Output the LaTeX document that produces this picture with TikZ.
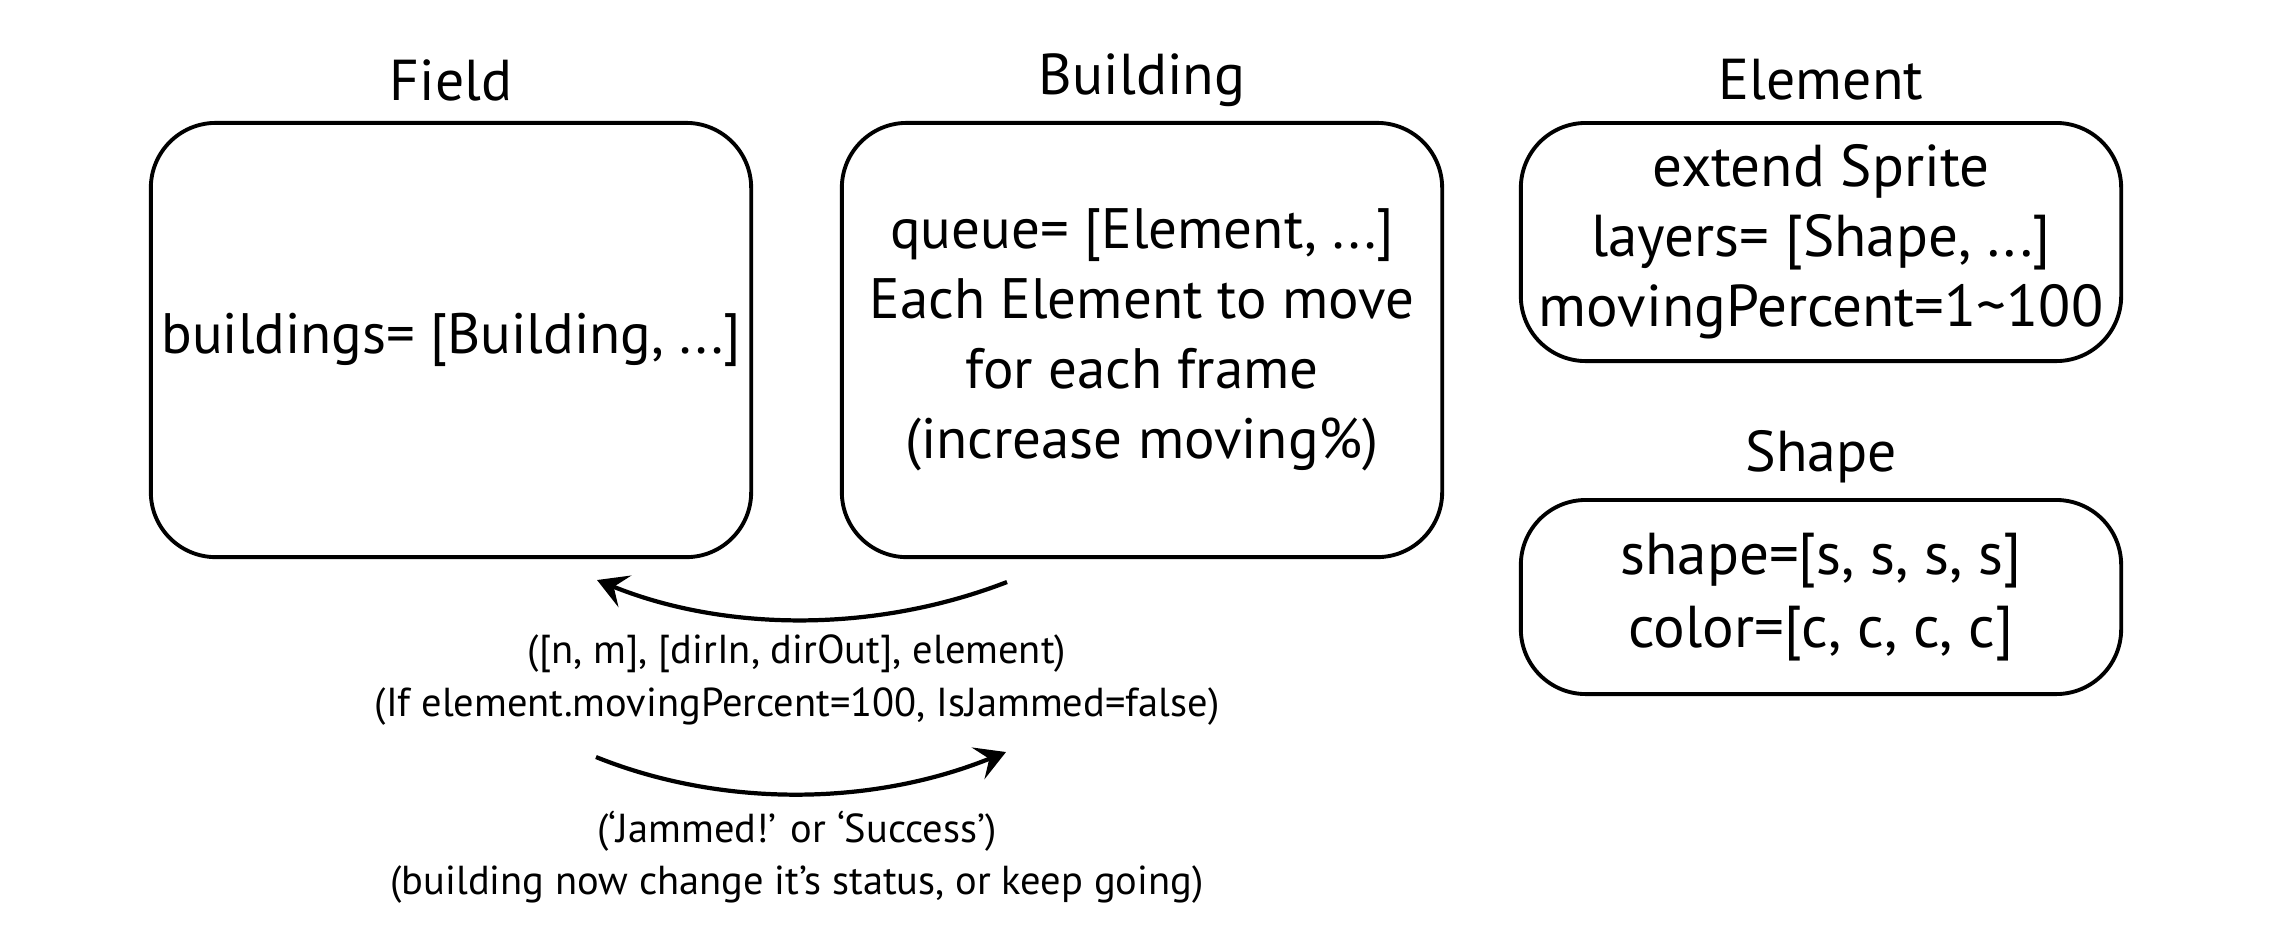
\documentclass[tikz,border=0pt]{standalone}
\usepackage{fontspec}
\setmainfont{PT Sans}
\usetikzlibrary{arrows.meta}
\begin{document}
\begin{tikzpicture}[x=0.01cm,y=-0.01cm,
  box/.style={draw, line width=1.1pt, rounded corners=0.65cm, align=center, inner sep=0pt,
    minimum width=6cm, font=\fontsize{16.2}{19.9}\selectfont},
  ttl/.style={font=\fontsize{16.4}{19.9}\selectfont, inner sep=0pt},
  lbl/.style={font=\fontsize{11.5}{14.9}\selectfont, align=center, inner sep=0pt},
  arr/.style={line width=1.2pt, -{Stealth[length=3mm, width=3.4mm, inset=1.2mm]}}
]
\useasboundingbox (0,0) rectangle (2273,950);

\node[box, minimum height=4.34cm] (field) at (451,340) {buildings= [Building, ...]};
\node[box, minimum height=4.34cm] (building) at (1142,340) {queue= [Element, ...]\\Each Element to move\\for each frame\\(increase moving\%)};
\node[box, minimum height=2.38cm, font=\fontsize{16.8}{19.9}\selectfont] (element) at (1821,242) {extend Sprite\\layers= [Shape, ...]\\movingPercent=1\textasciitilde100};
\node[box, minimum height=1.94cm, font=\fontsize{16.8}{20.9}\selectfont] (shape) at (1821,597) {shape=[s, s, s, s]\\color=[c, c, c, c]};

\node[ttl] (tfield) at (451,80) {Field};
\node[ttl] (tbuilding) at (1142,80) {Building};
\node[ttl] (telement) at (1821,80) {Element};
\node[ttl] (tshape) at (1821,457) {Shape};

\coordinate (a1s) at (1007,582);
\coordinate (a1e) at (597,580);
\coordinate (a2s) at (596,757);
\coordinate (a2e) at (1006,752);
\draw[arr] (a1s) .. controls (870,635) and (720,630) .. (a1e);
\draw[arr] (a2s) .. controls (720,807) and (870,807) .. (a2e);

\node[lbl] (l1) at (797,680) {([n, m], [dirIn, dirOut], element)\\(If element.movingPercent=100, IsJammed=false)};
\node[lbl] (l2) at (797,857) {(‘Jammed!’ or ‘Success’)\\(building now change it’s status, or keep going)};
\end{tikzpicture}
\end{document}
